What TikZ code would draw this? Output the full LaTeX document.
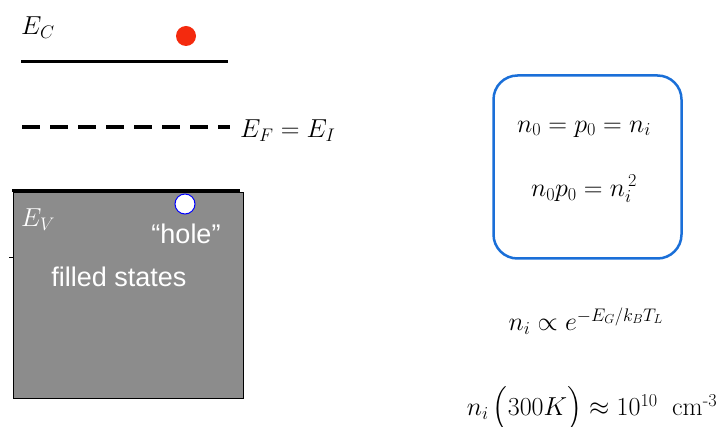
\RequirePackage{fix-cm}
\documentclass[tikz,border=0pt]{standalone}
\usepackage{fontspec}
\newfontfamily\arialfont{Liberation Sans}
\usepackage{amsmath}
\definecolor{bandgray}{HTML}{8C8C8C}
\definecolor{boxblue}{HTML}{1A6FD8}
\definecolor{dotred}{HTML}{F42A0E}
\begin{document}
\begin{tikzpicture}[x=1pt,y=-1pt,
  band/.style={line width=3pt},
  eqn/.style={font=\fontsize{26}{30}\selectfont, inner sep=0pt},
  lbl/.style={font=\fontsize{26}{30}\selectfont, inner sep=0pt},
  sans/.style={font=\arialfont\fontsize{27}{32}\selectfont, text=white, inner sep=0pt}]
\useasboundingbox (0,0) rectangle (727,427);
% conduction band
\coordinate (ec1) at (21,62);
\coordinate (ec2) at (228,62);
\draw[band] (ec1) -- (ec2);
\node[lbl, anchor=west] (EC) at (21,28) {$E_C$};
\node[circle, fill=dotred, minimum size=20pt, inner sep=0pt] (elec) at (186,36) {};
% Fermi level
\coordinate (ef1) at (22,127);
\coordinate (ef2) at (230,127);
\draw[line width=3.5pt, dash pattern=on 18pt off 10pt] (ef1) -- (ef2);
\node[lbl, anchor=west] (EF) at (240,131) {$E_F = E_I$};
% valence band
\node[draw=black, line width=0.8pt, fill=bandgray, minimum width=230pt, minimum height=206pt, anchor=north west, inner sep=0pt] (vb) at (12.5,192) {};
\coordinate (ev1) at (12,191);
\coordinate (ev2) at (240,191);
\draw[band] (ev1) -- (ev2);
\coordinate (t1) at (9,257);
\draw[line width=0.6pt] (t1) -- (vb.west |- t1);
\node[circle, draw=blue, line width=1pt, fill=white, minimum size=20pt, inner sep=0pt] (hole) at (185,204) {};
\node[lbl, anchor=west, text=white] (EV) at (21,220) {$E_V$};
\node[sans] (holelbl) at (186,234) {“hole”};
\node[sans] (filled) at (119,277) {filled states};
% relations
\node[draw=boxblue, line width=2.5pt, rounded corners=24pt, minimum width=188pt, minimum height=183pt, inner sep=0pt] (box) at (587.5,167) {};
\node[eqn] (eq1) at (584,129) {$n_0 = p_0 = n_i$};
\node[eqn] (eq2) at (584,189) {$n_0 p_0 = n_i^{\,2}$};
\node[eqn] (eq3) at (586,321) {$n_i \propto e^{-E_G/k_B T_L}$};
\node[eqn] (eq4) at (592,409) {$n_i\,\Bigl(300K\Bigr) \approx 10^{10}\;\;\mathrm{cm}^{\text{-}3}$};
\end{tikzpicture}
\end{document}
